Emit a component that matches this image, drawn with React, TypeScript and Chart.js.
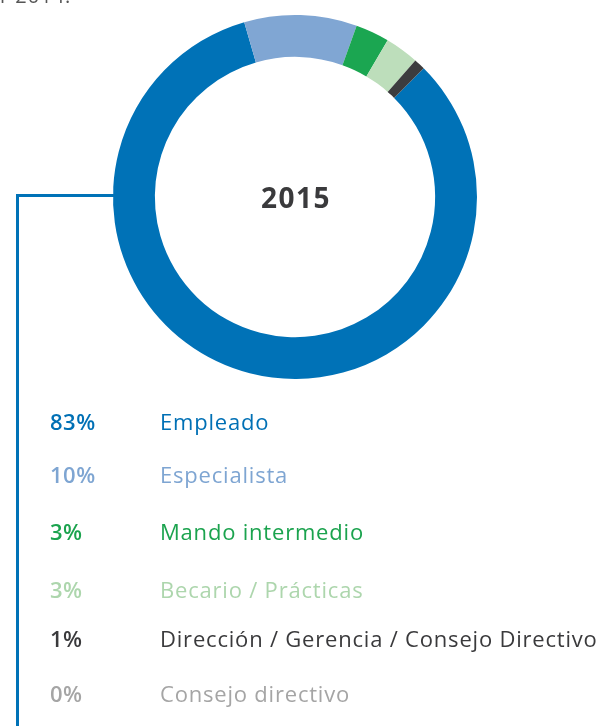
import React, { useEffect, useRef } from "react";
import { Chart, registerables } from "chart.js";

Chart.register(...registerables);

const categories = [
  "Empleado",
  "Especialista",
  "Mando intermedio",
  "Becario / Prácticas",
  "Dirección / Gerencia / Consejo Directivo",
  "Consejo directivo",
];
const values = [83, 10, 3, 3, 1, 0];
const sliceColors = ["#0072B7", "#80A6D3", "#1BA651", "#BDDEBB", "#3C3C3E", "#A7A7A7"];
const textColors = ["#0070B5", "#7EA5D2", "#1BA34E", "#ADD6AD", "#3A3A3C", "#A5A5A5"];
const centerLabel = "2015";
const topNote = "r 2014.";

// layout (not data)
const ROW_Y = [424, 477, 534, 592, 641, 696];
const PCT_X = 50;
const LABEL_X = 160;
const FONT = "'Open Sans', 'Lato', sans-serif";

const overlayPlugin = {
  id: "overlay",
  afterDraw(chart: any) {
    const ctx = chart.ctx;
    const arc = chart.getDatasetMeta(0).data[0];
    if (!arc) return;
    const cx = arc.x;
    const cy = arc.y;
    const r = arc.outerRadius;
    ctx.save();

    // top cut-off note
    ctx.fillStyle = "#555555";
    ctx.font = `20px ${FONT}`;
    ctx.textAlign = "left";
    ctx.textBaseline = "alphabetic";
    ctx.letterSpacing = "1px";
    ctx.fillText(topNote, 0, 3);

    // center label
    ctx.fillStyle = "#3A3A3C";
    ctx.font = `bold 28px ${FONT}`;
    ctx.letterSpacing = "1.5px";
    ctx.textAlign = "center";
    ctx.textBaseline = "middle";
    ctx.fillText(centerLabel, cx + 1, cy + 3);

    // connector line
    ctx.strokeStyle = "#0072B7";
    ctx.lineWidth = 3;
    ctx.beginPath();
    ctx.moveTo(cx - r + 1, cy - 1.5);
    ctx.lineTo(17.5, cy - 1.5);
    ctx.lineTo(17.5, chart.height + 5);
    ctx.stroke();

    // legend rows
    ctx.textAlign = "left";
    ctx.textBaseline = "middle";
    categories.forEach((cat, i) => {
      const y = ROW_Y[i];
      ctx.fillStyle = textColors[i];
      ctx.font = `600 22px ${FONT}`;
      ctx.letterSpacing = "0.5px";
      ctx.fillText(values[i] + "%", PCT_X, y);
      ctx.font = `22px ${FONT}`;
      ctx.letterSpacing = "0.8px";
      ctx.fillText(cat, LABEL_X, y);
    });
    ctx.restore();
  },
};

export default function App() {
  const ref = useRef<HTMLCanvasElement>(null);
  useEffect(() => {
    if (!ref.current) return;
    const chart = new Chart(ref.current, {
      type: "doughnut",
      data: {
        labels: categories,
        datasets: [
          {
            data: values,
            backgroundColor: sliceColors,
            borderWidth: 0,
            offset: 0,
            hoverOffset: 0,
          },
        ],
      },
      options: {
        responsive: false,
        animation: false,
        cutout: "77%",
        rotation: 45,
        layout: { padding: { left: 113, top: 15, right: 125, bottom: 347 } },
        plugins: { legend: { display: false }, tooltip: { enabled: false } },
        events: [],
      },
      plugins: [overlayPlugin],
    });
    return () => chart.destroy();
  }, []);
  return (
    <div style={{ position: "fixed", left: 0, top: 0, width: 602, height: 726, background: "#fff" }}>
      <canvas ref={ref} width={602} height={726} style={{ width: 602, height: 726 }} />
    </div>
  );
}
